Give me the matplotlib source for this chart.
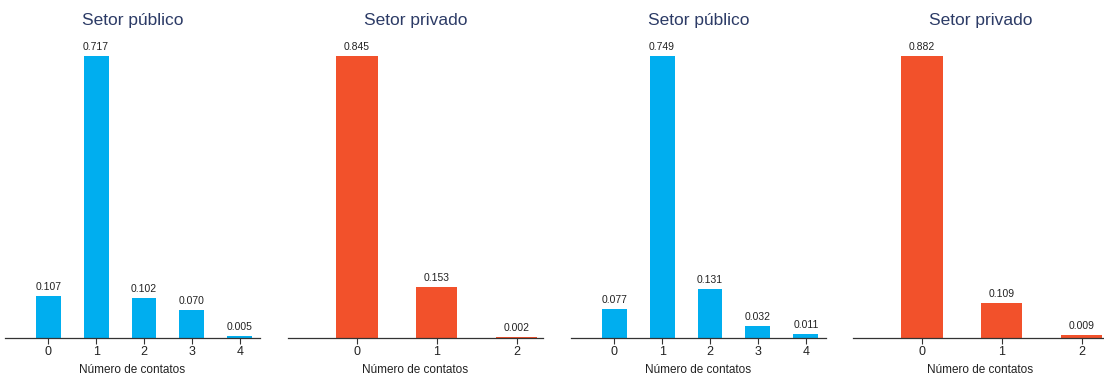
import matplotlib
matplotlib.use('Agg')
import matplotlib.pyplot as plt

plt.rcParams['font.family'] = ['Liberation Sans', 'DejaVu Sans']

titles = ["Setor público", "Setor privado", "Setor público", "Setor privado"]
cats_publico = [0, 1, 2, 3, 4]
cats_privado = [0, 1, 2]
vals_publico_a = [0.107, 0.717, 0.102, 0.070, 0.005]
vals_privado_a = [0.845, 0.153, 0.002]
vals_publico_b = [0.077, 0.749, 0.131, 0.032, 0.011]
vals_privado_b = [0.882, 0.109, 0.009]

blue = '#00aeef'
red = '#f2512b'
navy = '#2c3b66'

W, H = 1104, 374
fig = plt.figure(figsize=(W / 100, H / 100), dpi=100)

panels = [
    (cats_publico, vals_publico_a, blue, 5, 260, (-0.9, 4.42)),
    (cats_privado, vals_privado_a, red, 288, 543, (-0.86, 2.33)),
    (cats_publico, vals_publico_b, blue, 571, 826, (-0.9, 4.42)),
    (cats_privado, vals_privado_b, red, 853, 1108, (-0.86, 2.33)),
]

base_y, top_y = 338, 56
for title, (cats, vals, color, x0, x1, xl) in zip(titles, panels):
    ax = fig.add_axes([x0 / W, (H - base_y) / H, (x1 - x0) / W, (base_y - top_y) / H])
    ax.bar(cats, vals, width=0.52, color=color)
    ax.set_xlim(*xl)
    ax.set_ylim(0, max(vals))
    for c, v in zip(cats, vals):
        ax.annotate(f"{v:.3f}", (c, v), xytext=(0, 3), textcoords='offset points',
                    ha='center', va='bottom', fontsize=7.5, color='#222222',
                    annotation_clip=False)
    for s in ['top', 'right', 'left']:
        ax.spines[s].set_visible(False)
    ax.spines['bottom'].set_color('#333333')
    ax.spines['bottom'].set_linewidth(0.9)
    ax.set_yticks([])
    ax.set_xticks(cats)
    ax.tick_params(axis='x', length=4, width=0.8, color='#333333',
                   labelsize=9, labelcolor='#222222', pad=2)
    ax.set_xlabel("Número de contatos", fontsize=8.5, color='#222222', labelpad=4)
    ax.set_title(title, fontsize=12.5, color=navy, pad=22)

fig.savefig('out.png', dpi=100)
